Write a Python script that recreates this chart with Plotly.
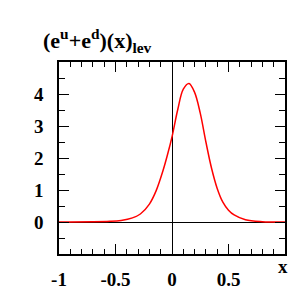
import plotly.graph_objects as go

# Data
x_vals = [-1.0, -0.7, -0.55, -0.45, -0.35, -0.28, -0.2, -0.14, -0.08, -0.04, 0.0, 0.05, 0.1, 0.15,
          0.2, 0.25, 0.3, 0.35, 0.4, 0.45, 0.5, 0.55, 0.65, 0.8, 1.0]
y_vals = [0.0, 0.005, 0.02, 0.05, 0.13, 0.25, 0.56, 0.98, 1.6, 2.1, 2.66, 3.5, 4.15, 4.33,
          4.05, 3.4, 2.5, 1.68, 1.05, 0.62, 0.37, 0.22, 0.07, 0.01, 0.0]

x_tickvals = [-1, -0.5, 0, 0.5]
x_ticktext = ["-1", "-0.5", "0", "0.5"]
y_tickvals = [0, 1, 2, 3, 4]
y_ticktext = ["0", "1", "2", "3", "4"]

FONT = "Liberation Serif, Times New Roman, serif"

fig = go.Figure()
fig.add_trace(go.Scatter(x=x_vals, y=y_vals, mode="lines",
                         line=dict(color="#ff0000", width=1.5, shape="spline", smoothing=1.0),
                         showlegend=False, hoverinfo="skip"))

fig.update_layout(
    width=294, height=296,
    margin=dict(l=59, r=9, t=62, b=42),
    paper_bgcolor="white", plot_bgcolor="white",
    xaxis=dict(range=[-1, 1], tickvals=x_tickvals, ticktext=x_ticktext, automargin=False,
               ticks="inside", ticklen=10, tickwidth=1, tickcolor="black",
               minor=dict(dtick=0.1, tick0=0, ticks="inside", ticklen=5, tickcolor="black", tickwidth=1),
               showline=True, linecolor="black", linewidth=1.6, mirror="allticks",
               showgrid=False, zeroline=True, zerolinecolor="black", zerolinewidth=1,
               tickfont=dict(family=FONT, size=19, color="black", weight="bold"),
               ticklabelstandoff=7),
    yaxis=dict(range=[-1, 5], tickvals=y_tickvals, ticktext=y_ticktext, automargin=False,
               ticks="inside", ticklen=10, tickwidth=1, tickcolor="black",
               minor=dict(dtick=0.5, tick0=0, ticks="inside", ticklen=6, tickcolor="black", tickwidth=1),
               showline=True, linecolor="black", linewidth=1.6, mirror="allticks",
               showgrid=False, zeroline=True, zerolinecolor="black", zerolinewidth=1,
               tickfont=dict(family=FONT, size=19, color="black", weight="bold"),
               ticklabelstandoff=10),
    annotations=[
        dict(text="(e<sup>u</sup>+e<sup>d</sup>)(x)<sub>lev</sub>", xref="paper", yref="paper",
             x=-0.08, y=1.02, xanchor="left", yanchor="bottom", showarrow=False,
             font=dict(family=FONT, size=22, color="black", weight="bold")),
        dict(text="x", xref="paper", yref="paper", x=1.02, y=0.0, xanchor="right", yanchor="top",
             showarrow=False, font=dict(family=FONT, size=19, color="black", weight="bold")),
    ],
)

fig.write_html("out.html", config={"displayModeBar": False},
               post_script="document.body.style.margin='0';document.body.style.overflow='hidden';")
